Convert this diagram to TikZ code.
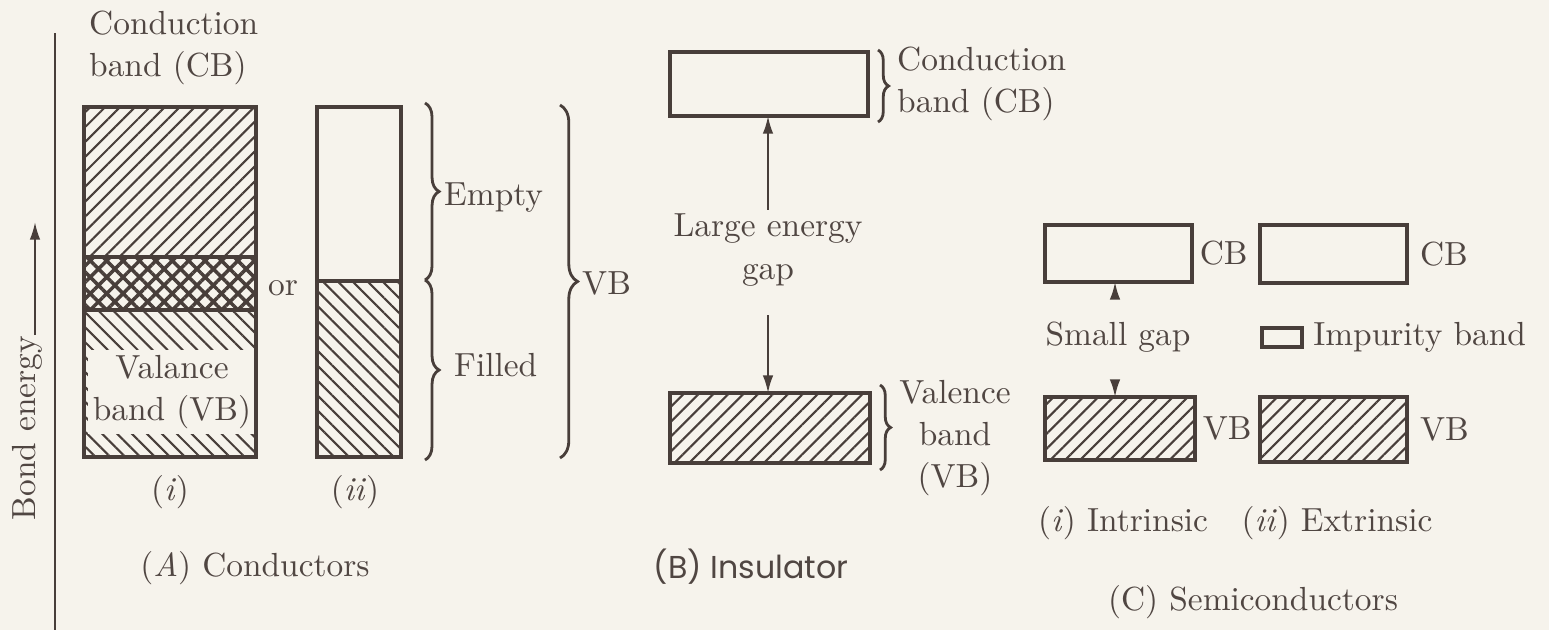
\documentclass[tikz,border=0pt]{standalone}
\usepackage{fontspec}
\newfontfamily\capfont{Poppins}
\usetikzlibrary{arrows.meta, patterns.meta, decorations.pathreplacing, positioning}

\definecolor{ink}{RGB}{72,62,58}
\definecolor{txt}{RGB}{80,70,66}
\definecolor{paper}{RGB}{246,243,236}

\begin{document}
\begin{tikzpicture}[x=0.01cm, y=-0.01cm, >={Latex[length=5pt,width=3pt]},
    font=\fontsize{9.5}{12}\selectfont, text=txt,
    band/.style={draw=ink, line width=1.1pt, inner sep=0pt, outer sep=0pt},
    hatchR/.style={band, pattern={Lines[angle=45, distance=3pt, line width=0.6pt]}, pattern color=ink},
    hatchL/.style={band, pattern={Lines[angle=-45, distance=3pt, line width=0.6pt]}, pattern color=ink},
    hatchX/.style={band, pattern={Hatch[angle=45, distance=3.3pt, line width=1pt]}, pattern color=ink},
    brc/.style={draw=ink, line width=0.8pt, decorate, decoration={brace, amplitude=#1}},
    brc/.default=4pt,
    gapline/.style={draw=ink, line width=0.6pt},
    lbl/.style={inner sep=1pt, align=center}]
    \fill[paper] (0,0) rectangle (1549,630);
    \useasboundingbox (0,0) rectangle (1549,630);

    % energy axis
    \draw[ink, line width=0.8pt] (55,33) -- (55,630);
    \node[lbl, rotate=90] (bondlbl) at (27,428) {Bond energy};
    \coordinate (beBot) at (35,335);
    \coordinate (beTop) at (35,222);
    \draw[gapline, ->] (beBot) -- (beTop);

    % (A) conductors
    \node[lbl, anchor=west, align=left] (cbA) at (85,48) {Conduction\\band (CB)};
    \node[hatchR, minimum width=1.72cm, minimum height=1.50cm] (aTop) at (170,182) {};
    \node[hatchX, minimum width=1.72cm, minimum height=0.53cm] (aMid) at (170,283.5) {};
    \node[hatchL, minimum width=1.72cm, minimum height=1.47cm] (aBot) at (170,383.5) {};
    \node[lbl, fill=paper, inner sep=1.5pt] (vbA) at (172,392) {Valance\\band (VB)};
    \draw[band] (aBot.north west) rectangle (aBot.south east);
    \node[lbl] (orA) at (283,288) {or};
    \node[band, minimum width=0.84cm, minimum height=1.74cm] (bTop) at (359,194) {};
    \node[hatchL, minimum width=0.84cm, minimum height=1.76cm] (bBot) at (359,369) {};
    \draw[brc] (425,103) -- (425,280);
    \draw[brc] (425,280) -- (425,460);
    \node[lbl, anchor=west] (emptyA) at (440,198) {Empty};
    \node[lbl, anchor=west] (filledA) at (450,365) {Filled};
    \draw[brc=5pt] (560,105) -- (560,458);
    \node[lbl, anchor=west] (vbBig) at (578,283) {VB};
    \node[lbl] (iA) at (170,492) {(\textit{i})};
    \node[lbl] (iiA) at (355,492) {(\textit{ii})};
    \node[lbl] (capA) at (255,568) {(\textit{A}) Conductors};

    % (B) insulator
    \node[band, minimum width=1.98cm, minimum height=0.64cm] (cbB) at (769,84) {};
    \node[hatchR, minimum width=2.00cm, minimum height=0.70cm] (vbB) at (770,428) {};
    \draw[brc=3pt] (878,50) -- (878,122);
    \draw[brc=3pt] (880,385) -- (880,470);
    \node[lbl, anchor=west, align=left] (cbBl) at (893,84) {Conduction\\band (CB)};
    \node[lbl] (vbBl) at (955,438) {Valence\\band\\(VB)};
    \node[lbl] (gapB) at (768,250) {Large energy\\gap};
    \draw[gapline, ->] (gapB.north) -- (gapB.north |- cbB.south);
    \draw[gapline, ->, shorten <=0.25cm] (gapB.south) -- (gapB.south |- vbB.north);
    \node[lbl, font=\capfont\fontsize{9}{11}\selectfont] (capB) at (751,567) {(B) Insulator};

    % (C) semiconductors
    \node[band, minimum width=1.47cm, minimum height=0.57cm] (cbCi) at (1118.5,253.5) {};
    \node[band, minimum width=1.47cm, minimum height=0.58cm] (cbCe) at (1333.5,254) {};
    \node[hatchR, minimum width=1.50cm, minimum height=0.63cm] (vbCi) at (1120,428.5) {};
    \node[hatchR, minimum width=1.47cm, minimum height=0.65cm] (vbCe) at (1333.5,429.5) {};
    \node[band, line width=0.9pt, minimum width=0.40cm, minimum height=0.19cm] (impC) at (1282,337.5) {};
    \node[lbl, right=1pt of cbCi] (cbCil) {CB};
    \node[lbl, right=2.5pt of cbCe] (cbCel) {CB};
    \node[lbl, right=1pt of vbCi] (vbCil) {VB};
    \node[lbl, right=2.5pt of vbCe] (vbCel) {VB};
    \node[lbl, right=2pt of impC] (impCl) {Impurity band};
    \node[lbl] (gapC) at (1118,337) {Small gap};
    \draw[gapline, ->, shorten <=0.2cm] (gapC.north -| 1115,0) -- (cbCi.south -| 1115,0);
    \draw[gapline, ->, shorten <=0.25cm] (gapC.south -| 1115,0) -- (vbCi.north -| 1115,0);
    \node[lbl] (iC) at (1123,523) {(\textit{i}) Intrinsic};
    \node[lbl] (iiC) at (1337,523) {(\textit{ii}) Extrinsic};
    \node[lbl] (capC) at (1253,602) {(C) Semiconductors};
\end{tikzpicture}
\end{document}
